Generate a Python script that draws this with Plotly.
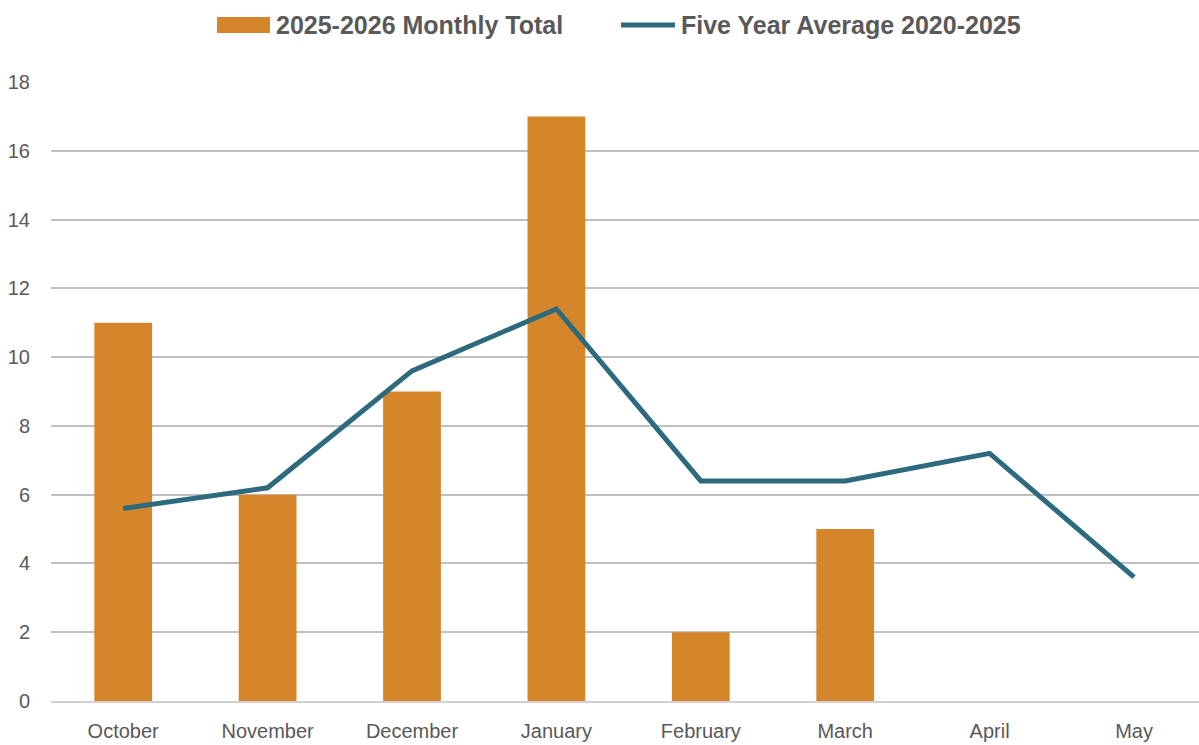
import plotly.graph_objects as go

months = ["October", "November", "December", "January", "February", "March", "April", "May"]
monthly_total = [11, 6, 9, 17, 2, 5, None, None]
five_year_avg = [5.6, 6.2, 9.6, 11.4, 6.4, 6.4, 7.2, 3.6]
y_ticks = [0, 2, 4, 6, 8, 10, 12, 14, 16, 18]
series_names = ["2025-2026 Monthly Total", "Five Year Average 2020-2025"]

ORANGE = "#D6862A"
TEAL = "#2D6A7E"
TEXT = "#595959"
GRID = "#BFBFBF"
FONT = "Liberation Sans Narrow, Arial Narrow, Liberation Sans, Arial, sans-serif"

W, H = 1199, 745
L, R, T, B = 51, 0, 82, 44
PW, PH = W - L - R, H - T - B


def px_x(p):
    return (p - L) / PW


def px_y(p):
    return (H - B - p) / PH


fig = go.Figure()
fig.add_trace(go.Bar(
    x=months, y=monthly_total, name=series_names[0],
    marker=dict(color=ORANGE, line=dict(width=0)), showlegend=False,
))
fig.add_trace(go.Scatter(
    x=months, y=five_year_avg, name=series_names[1],
    mode="lines", line=dict(color=TEAL, width=5), showlegend=False,
))

# custom legend (Excel-style wide swatches)
leg_y = 25
fig.add_shape(type="rect", xref="paper", yref="paper",
              x0=px_x(217), x1=px_x(270), y0=px_y(33), y1=px_y(17),
              fillcolor=ORANGE, line=dict(width=0))
fig.add_shape(type="line", xref="paper", yref="paper",
              x0=px_x(621), x1=px_x(675), y0=px_y(leg_y), y1=px_y(leg_y),
              line=dict(color=TEAL, width=5))
for name, xpos in zip(series_names, [274, 679]):
    fig.add_annotation(text="<b>" + name + "</b>", xref="paper", yref="paper",
                       x=px_x(xpos), y=px_y(leg_y), xanchor="left", yanchor="middle",
                       showarrow=False, font=dict(family=FONT, size=25, color=TEXT))

fig.update_layout(
    width=W, height=H, autosize=False,
    margin=dict(l=L, r=R, t=T, b=B),
    paper_bgcolor="white", plot_bgcolor="white",
    bargap=0.6, showlegend=False,
    font=dict(family=FONT, color=TEXT, size=20),
    xaxis=dict(
        range=[-0.5, 7.45],
        showgrid=False, showline=True, linecolor="#D0D0D0", linewidth=1.5,
        ticks="", tickfont=dict(size=20, color=TEXT), ticklabelstandoff=11,
    ),
    yaxis=dict(
        range=[0, 18], tickvals=y_ticks, showgrid=True, gridcolor=GRID, gridwidth=2,
        zeroline=False, showline=False, ticks="",
        tickfont=dict(size=20, color=TEXT), ticklabelstandoff=20,
    ),
)

fig.write_html("out.html", config={"displayModeBar": False},
               post_script="document.body.style.margin='0';document.body.style.overflow='hidden';")
